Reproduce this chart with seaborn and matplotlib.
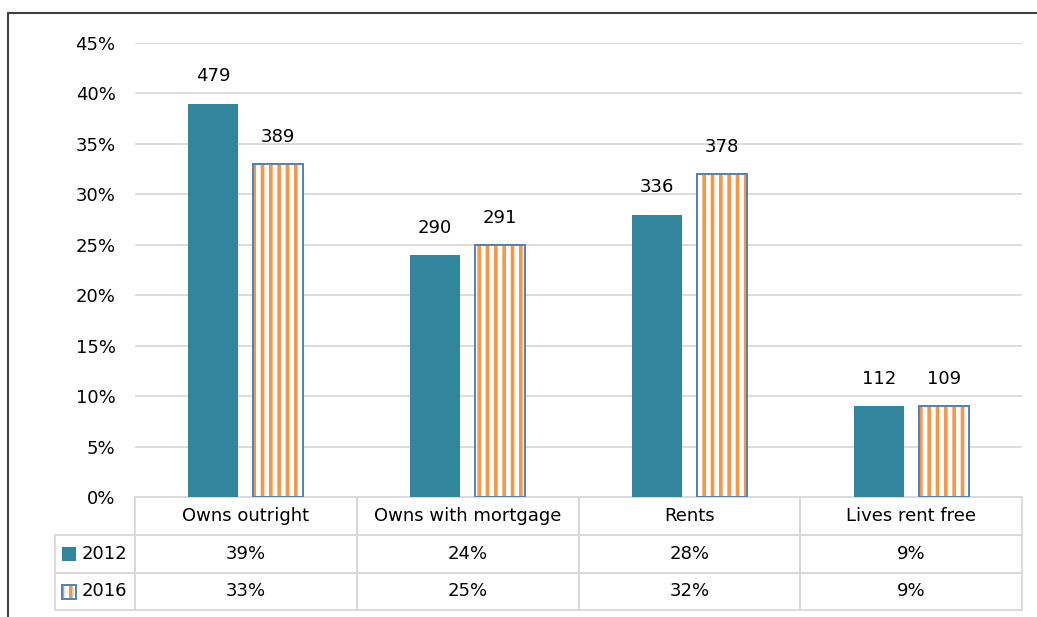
import pandas as pd
import numpy as np
import matplotlib
matplotlib.use("Agg")
import matplotlib.pyplot as plt
import seaborn as sns
from matplotlib.patches import Rectangle
from matplotlib.lines import Line2D
from matplotlib.table import Table
from matplotlib.ticker import PercentFormatter

# data
tenure = ["Owns outright", "Owns with mortgage", "Rents", "Lives rent free"]
years = ["2012", "2016"]
share_2012 = [0.39, 0.24, 0.28, 0.09]
share_2016 = [0.33, 0.25, 0.32, 0.09]
count_2012 = [479, 290, 336, 112]
count_2016 = [389, 291, 378, 109]

teal = "#31859C"
orange = "#F79646"
blue = "#4F81BD"
grid_col = "#D9D9D9"

df = pd.DataFrame({
    "tenure": tenure * 2,
    "year": [years[0]] * 4 + [years[1]] * 4,
    "share": share_2012 + share_2016,
})

sns.set_style("white")
plt.rcParams["font.family"] = ["DejaVu Sans"]
plt.rcParams["text.color"] = "black"
plt.rcParams["ytick.color"] = "black"
plt.rcParams["hatch.linewidth"] = 2.6

W, H = 1037, 617
fig = plt.figure(figsize=(W / 100, H / 100), dpi=100)
ax = fig.add_axes([135 / W, 1 - 497 / H, 887 / W, 454 / H])

sns.barplot(data=df, x="tenure", y="share", hue="year", order=tenure,
            hue_order=years, palette={"2012": teal, "2016": "white"},
            saturation=1, width=0.586, gap=0.232, legend=False, ax=ax, linewidth=0)

bars12, bars16 = ax.containers[0], ax.containers[1]
for p in bars12:
    p.set_linewidth(0)
for p in bars16:
    p.set_facecolor("white")
    p.set_edgecolor(orange)
    p.set_linewidth(0)
    p.set_hatch("||")
    ax.add_patch(Rectangle((p.get_x(), p.get_y()), p.get_width(), p.get_height(),
                           fill=False, edgecolor=blue, lw=1.4, zorder=p.get_zorder() + 0.1))

ax.bar_label(bars12, labels=[str(c) for c in count_2012], padding=13, fontsize=13)
ax.bar_label(bars16, labels=[str(c) for c in count_2016], padding=13, fontsize=13)

ax.set_ylim(0, 0.45)
ax.set_yticks(np.arange(0, 0.451, 0.05))
ax.yaxis.set_major_formatter(PercentFormatter(1.0, decimals=0))
ax.tick_params(axis="y", length=0, pad=14, labelsize=13, labelcolor="black")
ax.set_xticks([])
ax.set_xlabel("")
ax.set_ylabel("")
ax.grid(axis="y", color=grid_col, lw=1.3)
ax.set_axisbelow(True)
for s in ax.spines.values():
    s.set_visible(False)

# data table under the plot
lab_w = 80 / 887
tb = Table(ax, bbox=[-lab_w, -113 / 454, 1 + lab_w, 113 / 454])
row_h = [38, 38, 37]
rows = [[""] + tenure,
        [years[0]] + [f"{v * 100:.0f}%" for v in share_2012],
        [years[1]] + [f"{v * 100:.0f}%" for v in share_2016]]
for r, row in enumerate(rows):
    for c, txt in enumerate(row):
        w = lab_w if c == 0 else 0.25
        cell = tb.add_cell(r, c, width=w, height=row_h[r], text=txt,
                           loc="right" if c == 0 else "center",
                           facecolor="none", edgecolor=grid_col)
        cell.set_linewidth(1.3)
        cell.get_text().set_color("black")
        if r == 0 and c == 0:
            cell.visible_edges = ""
tb.auto_set_font_size(False)
tb.set_fontsize(13)
ax.add_table(tb)

# legend keys inside the table
def fpx(x, y):
    return (x / W, 1 - y / H)

fig.add_artist(Rectangle(fpx(62, 561), 14 / W, 14 / H, transform=fig.transFigure,
                         facecolor=teal, lw=0))
fig.add_artist(Rectangle(fpx(62, 599), 14 / W, 14 / H, transform=fig.transFigure,
                         facecolor="white", edgecolor=orange, hatch="||", lw=0))
fig.add_artist(Rectangle(fpx(62, 599), 14 / W, 14 / H, transform=fig.transFigure,
                         fill=False, edgecolor=blue, lw=1.4))

# outer frame
fig.add_artist(Line2D([8 / W, 1], [1 - 13 / H] * 2, transform=fig.transFigure,
                      color="#404040", lw=1.5))
fig.add_artist(Line2D([8 / W, 8 / W], [0, 1 - 13 / H], transform=fig.transFigure,
                      color="#404040", lw=1.5))

fig.savefig("out.png", dpi=100)
